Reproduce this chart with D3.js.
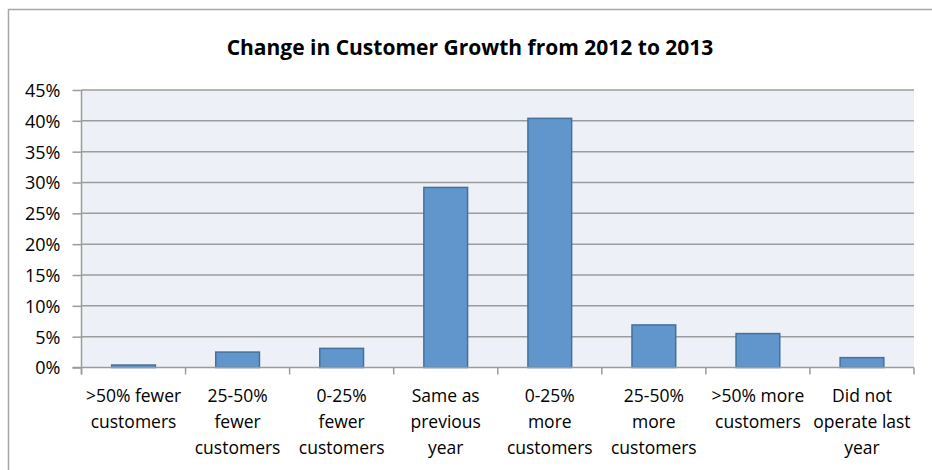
<!DOCTYPE html>
<html>
<head>
<meta charset="utf-8">
<script src="https://d3js.org/d3.v7.min.js"></script>
<style>
  body { margin: 0; background: #fff; }
  svg { display: block; font-family: "Open Sans", sans-serif; }
</style>
</head>
<body>
<svg width="932" height="470"></svg>
<script>
// chart data
const categories = [
  ">50% fewer customers",
  "25-50% fewer customers",
  "0-25% fewer customers",
  "Same as previous year",
  "0-25% more customers",
  "25-50% more customers",
  ">50% more customers",
  "Did not operate last year"
];
// label lines as shown under each bar
const labelLines = [
  [">50% fewer", "customers"],
  ["25-50%", "fewer", "customers"],
  ["0-25%", "fewer", "customers"],
  ["Same as", "previous", "year"],
  ["0-25%", "more", "customers"],
  ["25-50%", "more", "customers"],
  [">50% more", "customers"],
  ["Did not", "operate last", "year"]
];
const values = [0.004, 0.025, 0.031, 0.292, 0.404, 0.069, 0.055, 0.016];
const yTicks = [0, 0.05, 0.10, 0.15, 0.20, 0.25, 0.30, 0.35, 0.40, 0.45];
const title = "Change in Customer Growth from 2012 to 2013";

const svg = d3.select("svg");
const plot = { left: 81.5, right: 914, top: 90, bottom: 367.5 };

// outer chart border (runs off the right and bottom of the picture)
svg.append("rect")
  .attr("x", 8.5).attr("y", 9.5)
  .attr("width", 940).attr("height", 480)
  .attr("fill", "#fff")
  .attr("stroke", "#a6a6a6")
  .attr("stroke-width", 1.5);

svg.append("text")
  .attr("x", 470).attr("y", 55)
  .attr("text-anchor", "middle")
  .attr("font-weight", "bold")
  .attr("font-size", 21)
  .attr("fill", "#000")
  .text(title);

const x = d3.scaleBand()
  .domain(categories)
  .range([plot.left, plot.right])
  .paddingInner(0.58)
  .paddingOuter(0.29);

const y = d3.scaleLinear()
  .domain([0, 0.45])
  .range([plot.bottom, plot.top]);

// plot area background
svg.append("rect")
  .attr("x", plot.left).attr("y", plot.top)
  .attr("width", plot.right - plot.left)
  .attr("height", plot.bottom - plot.top)
  .attr("fill", "#edf0f6");

// gridlines
svg.append("g")
  .selectAll("line")
  .data(yTicks.filter(d => d > 0))
  .join("line")
  .attr("x1", plot.left).attr("x2", plot.right)
  .attr("y1", d => y(d)).attr("y2", d => y(d))
  .attr("stroke", "#9c9c9c")
  .attr("stroke-width", 1.5);

// bars
svg.append("g")
  .selectAll("rect")
  .data(values)
  .join("rect")
  .attr("x", (d, i) => x(categories[i]))
  .attr("y", d => y(d))
  .attr("width", x.bandwidth())
  .attr("height", d => y(0) - y(d))
  .attr("fill", "#6096cb")
  .attr("stroke", "#44709e")
  .attr("stroke-width", 1.5);

// y axis
const yAxis = svg.append("g")
  .attr("transform", `translate(${plot.left},0)`)
  .call(d3.axisLeft(y).tickValues(yTicks).tickFormat(d3.format(".0%")).tickSize(9).tickPadding(12));
yAxis.select(".domain").attr("stroke", "#9c9c9c").attr("stroke-width", 1.5)
  .attr("d", `M0,${plot.top}V${plot.bottom + 7}`);
yAxis.selectAll(".tick line").attr("stroke", "#9c9c9c").attr("stroke-width", 1.5);
yAxis.selectAll(".tick text")
  .attr("font-family", "'Open Sans', sans-serif")
  .attr("font-size", 18)
  .attr("fill", "#000")
  .attr("dy", "0.36em");

// x axis baseline and boundary ticks
const step = x.step();
const bounds = d3.range(categories.length + 1).map(i => plot.left + i * step);
svg.append("line")
  .attr("x1", plot.left - 9).attr("x2", plot.right)
  .attr("y1", plot.bottom).attr("y2", plot.bottom)
  .attr("stroke", "#9c9c9c").attr("stroke-width", 1.5);
svg.append("g")
  .selectAll("line")
  .data(bounds)
  .join("line")
  .attr("x1", d => d).attr("x2", d => d)
  .attr("y1", plot.bottom).attr("y2", plot.bottom + 7)
  .attr("stroke", "#9c9c9c").attr("stroke-width", 1.5);

// category labels
const labels = svg.append("g")
  .selectAll("text")
  .data(categories)
  .join("text")
  .attr("x", d => x(d) + x.bandwidth() / 2)
  .attr("y", 402)
  .attr("text-anchor", "middle")
  .attr("font-size", 17.5)
  .attr("fill", "#000");
labels.selectAll("tspan")
  .data((d, i) => labelLines[i])
  .join("tspan")
  .attr("x", function () { return this.parentNode.getAttribute("x"); })
  .attr("dy", (d, i) => i === 0 ? 0 : 26)
  .text(d => d);
</script>
</body>
</html>
